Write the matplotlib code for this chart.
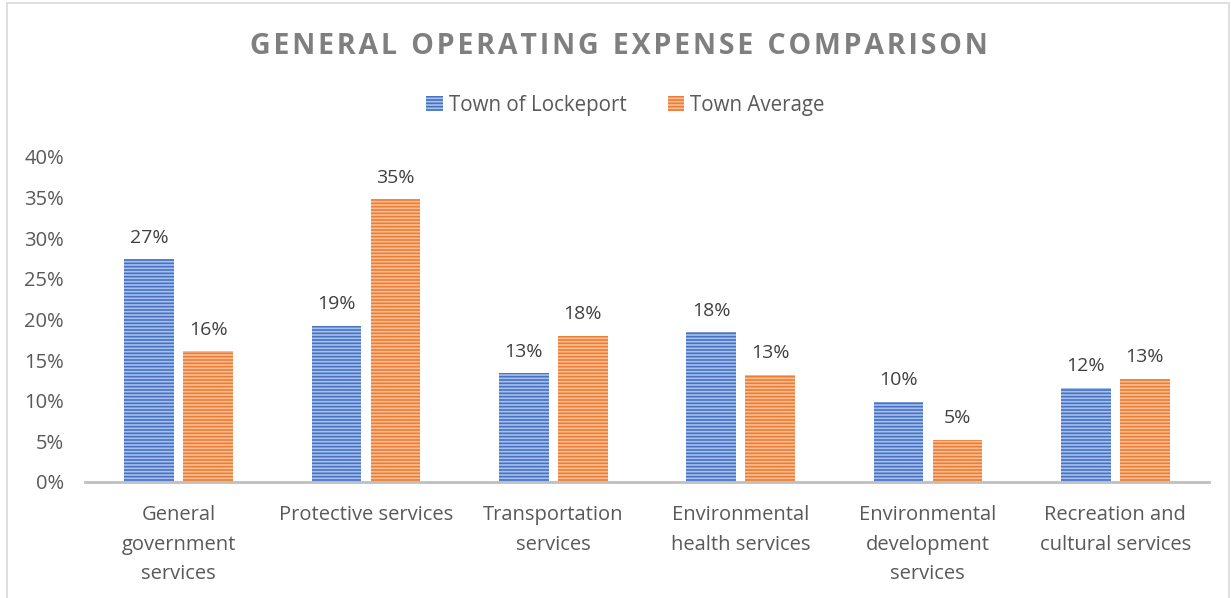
import matplotlib.pyplot as plt
import numpy as np
from matplotlib.patches import Rectangle
from matplotlib.ticker import PercentFormatter

categories = [
    "General\ngovernment\nservices",
    "Protective services",
    "Transportation\nservices",
    "Environmental\nhealth services",
    "Environmental\ndevelopment\nservices",
    "Recreation and\ncultural services",
]
lockeport = [0.274, 0.192, 0.134, 0.184, 0.099, 0.116]
town_avg = [0.161, 0.348, 0.180, 0.132, 0.052, 0.127]
series_names = ["Town of Lockeport", "Town Average"]

text_col = "#595959"
plt.rcParams["font.family"] = ["Open Sans", "DejaVu Sans"]
plt.rcParams["hatch.linewidth"] = 1.2

fig = plt.figure(figsize=(12.31, 5.98), dpi=100)
ax = fig.add_axes([0.069, 0.194, 0.913, 0.5435])

# chart frame
fig.patches.append(Rectangle((0.006, -0.02), 0.992, 1.015, transform=fig.transFigure,
                             fill=False, edgecolor="#D9D9D9", linewidth=1.2))

x = np.arange(len(categories))
w = 0.265
gap = 0.05
b1 = ax.bar(x - (w + gap) / 2, lockeport, w, color="#4472C4", edgecolor="#A9C0EA",
            hatch="-----", linewidth=0, label=series_names[0])
b2 = ax.bar(x + (w + gap) / 2, town_avg, w, color="#ED7D31", edgecolor="#F8BE98",
            hatch="-----", linewidth=0, label=series_names[1])

for bars, vals in [(b1, lockeport), (b2, town_avg)]:
    for rect, v in zip(bars, vals):
        ax.annotate(f"{v * 100:.0f}%", (rect.get_x() + rect.get_width() / 2, v),
                    xytext=(0, 9), textcoords="offset points", ha="center",
                    va="bottom", fontsize=14, color="#404040")

ax.set_xlim(-0.5, len(categories) - 0.5)
ax.set_ylim(0, 0.4)
ax.set_yticks(np.arange(0, 0.41, 0.05))
ax.yaxis.set_major_formatter(PercentFormatter(1.0, decimals=0))
ax.set_xticks(x)
ax.set_xticklabels(categories, fontsize=14.5, color=text_col, linespacing=1.64)
ax.tick_params(axis="y", labelsize=14.5, labelcolor=text_col, length=0, pad=15)
ax.tick_params(axis="x", length=0, pad=16.5)
for s in ["top", "right", "left"]:
    ax.spines[s].set_visible(False)
ax.spines["bottom"].set_color("#BFBFBF")
ax.spines["bottom"].set_linewidth(2)

title = "GENERAL OPERATING EXPENSE COMPARISON"
fig.text(0.503, 0.922, "\u200a".join(title).replace("\u200a \u200a", "\u2002"),
         ha="center", va="center", fontsize=20.5, fontweight="bold", color="#7F7F7F")

fig.legend(handles=[b1, b2], labels=series_names, loc="center", ncol=2,
           bbox_to_anchor=(0.508, 0.824), frameon=False, fontsize=14.8,
           labelcolor=text_col, handlelength=0.8, handleheight=0.8,
           handletextpad=0.3, columnspacing=2.0)

fig.savefig("out.png", dpi=100)
